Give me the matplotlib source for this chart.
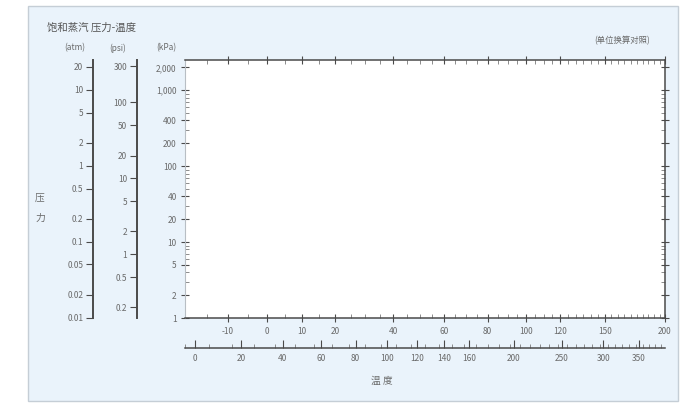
import numpy as np
import matplotlib
matplotlib.use("Agg")
import matplotlib.pyplot as plt
from matplotlib.patches import Rectangle
from matplotlib.ticker import FixedLocator, FuncFormatter, NullFormatter

plt.rcParams['font.family'] = ['Noto Sans CJK SC', 'DejaVu Sans']

# ---- data (scale definitions) ----
title = "饱和蒸汽 压力-温度"
note = "(单位换算对照)"
xlabel = "温 度"
ylabel = "压\n力"
unit_main = "(kPa)"
unit_c1 = "(atm)"
unit_c2 = "(psi)"
p_range_kpa = [1, 2500]
kpa_ticks = [1, 2, 5, 10, 20, 40, 100, 200, 400, 1000, 2000]
atm_ticks = [0.01, 0.02, 0.05, 0.1, 0.2, 0.5, 1, 2, 5, 10, 20]
psi_ticks = [0.2, 0.5, 1, 2, 5, 10, 20, 50, 100, 300]
kpa_to_atm = 1 / 101.325
kpa_to_psi = 0.145038
t_range_c = [-20, 200]
c_ticks = [-10, 0, 10, 20, 40, 60, 80, 100, 120, 150, 200]
c_minor = list(range(-20, 201, 5))
f_ticks = [0, 20, 40, 60, 80, 100, 120, 140, 160, 200, 250, 300, 350]
f_minor = list(range(-4, 393, 10))

TXT = "#6a6a6a"
LINE = "#4a4a4a"
FS = 6

def fmt_num(v, pos=None):
    if v >= 1000:
        return f"{int(round(v)):,}"
    return f"{v:g}"

# Cox-type temperature scale
def fwd_c(t):
    t = np.asarray(t, dtype=float)
    with np.errstate(divide='ignore', invalid='ignore'):
        return -1000.0 / (t + 230.0)

def inv_c(u):
    u = np.asarray(u, dtype=float)
    with np.errstate(divide='ignore', invalid='ignore'):
        return -1000.0 / u - 230.0

def f2c(f):
    return (np.asarray(f, dtype=float) - 32.0) / 1.8

def c2f(c):
    return np.asarray(c, dtype=float) * 1.8 + 32.0

def fwd_f(f):
    return fwd_c(f2c(f))

def inv_f(u):
    return c2f(inv_c(u))

fig = plt.figure(figsize=(6.83, 4.09), dpi=100)
W, H = 683.0, 409.0

def fx(px):
    return px / W

def fy(py):
    return 1 - py / H

# background panel
fig.patches.append(Rectangle((fx(28), fy(401)), (678 - 28) / W, (401 - 6) / H,
                             transform=fig.transFigure, facecolor="#eaf3fb",
                             edgecolor="#c5ced6", linewidth=1.0, zorder=-10))

# main axes
L, R, T, B = 185, 665, 60, 318
ax = fig.add_axes([fx(L), fy(B), (R - L) / W, (B - T) / H])
ax.set_facecolor("white")
ax.set_yscale('log')
ax.set_ylim(*p_range_kpa)
ax.set_xscale('function', functions=(fwd_c, inv_c))
ax.set_xlim(*t_range_c)
ax.yaxis.set_major_locator(FixedLocator(kpa_ticks))
ax.yaxis.set_major_formatter(FuncFormatter(fmt_num))
ax.yaxis.set_minor_formatter(NullFormatter())
ax.xaxis.set_major_locator(FixedLocator(c_ticks))
ax.xaxis.set_minor_locator(FixedLocator(c_minor))
ax.xaxis.set_major_formatter(FuncFormatter(lambda v, p: f"{v:g}"))
for s in ['top', 'right', 'bottom']:
    ax.spines[s].set_color(LINE)
    ax.spines[s].set_linewidth(1.1)
ax.spines['left'].set_color("#b8bec4")
ax.spines['left'].set_linewidth(0.8)
ax.tick_params(axis='both', which='major', direction='inout', length=6, width=0.8,
               color=LINE, labelsize=FS, labelcolor=TXT, top=True, right=True)
ax.tick_params(axis='both', which='minor', direction='in', length=3, width=0.6,
               color="#7a7a7a", top=True, right=True)
ax.tick_params(axis='y', which='major', pad=3)

# left auxiliary pressure scales
def left_scale(xpx, factor, ticks):
    a = fig.add_axes([fx(xpx), fy(B), 0.0001, (B - T) / H])
    a.patch.set_visible(False)
    a.set_yscale('log')
    a.set_ylim(p_range_kpa[0] * factor, p_range_kpa[1] * factor)
    a.yaxis.set_major_locator(FixedLocator(ticks))
    a.yaxis.set_major_formatter(FuncFormatter(fmt_num))
    a.yaxis.set_minor_formatter(NullFormatter())
    a.set_xticks([])
    for s in ['top', 'right', 'bottom']:
        a.spines[s].set_visible(False)
    a.spines['left'].set_color(LINE)
    a.spines['left'].set_linewidth(1.4)
    a.tick_params(axis='y', which='major', direction='out', length=5, width=0.8,
                  color=LINE, labelsize=FS, labelcolor=TXT, pad=2)
    a.tick_params(axis='y', which='minor', length=0)
    return a

left_scale(93, kpa_to_atm, atm_ticks)
left_scale(137, kpa_to_psi, psi_ticks)

# secondary temperature scale (°F)
ax2 = fig.add_axes([fx(L), fy(348), (R - L) / W, 0.0001])
ax2.patch.set_visible(False)
ax2.set_xscale('function', functions=(fwd_f, inv_f))
ax2.set_xlim(float(c2f(t_range_c[0])), float(c2f(t_range_c[1])))
ax2.xaxis.set_major_locator(FixedLocator(f_ticks))
ax2.xaxis.set_minor_locator(FixedLocator(f_minor))
ax2.xaxis.set_major_formatter(FuncFormatter(lambda v, p: f"{v:g}"))
ax2.set_yticks([])
for s in ['top', 'right', 'left']:
    ax2.spines[s].set_visible(False)
ax2.spines['bottom'].set_color(LINE)
ax2.spines['bottom'].set_linewidth(1.1)
ax2.tick_params(axis='x', which='major', direction='in', length=6, width=0.8,
                color=LINE, labelsize=FS, labelcolor=TXT, pad=4)
ax2.tick_params(axis='x', which='minor', direction='in', length=3, width=0.6,
                color="#7a7a7a")

# texts
fig.text(fx(47), fy(28), title, fontsize=7.5, color="#555555", ha='left', va='center')
fig.text(fx(650), fy(41), note, fontsize=6, color=TXT, ha='right', va='center')
fig.text(fx(75), fy(48), unit_c1, fontsize=FS, color=TXT, ha='center', va='center')
fig.text(fx(118), fy(48), unit_c2, fontsize=FS, color=TXT, ha='center', va='center')
fig.text(fx(166), fy(48), unit_main, fontsize=FS, color=TXT, ha='center', va='center')
fig.text(fx(40), fy(208), ylabel, fontsize=7, color=TXT, ha='center', va='center',
         linespacing=2.2)
fig.text(fx(382), fy(381), xlabel, fontsize=7, color=TXT, ha='center', va='center')

fig.savefig("out.png", dpi=100, facecolor="white")
